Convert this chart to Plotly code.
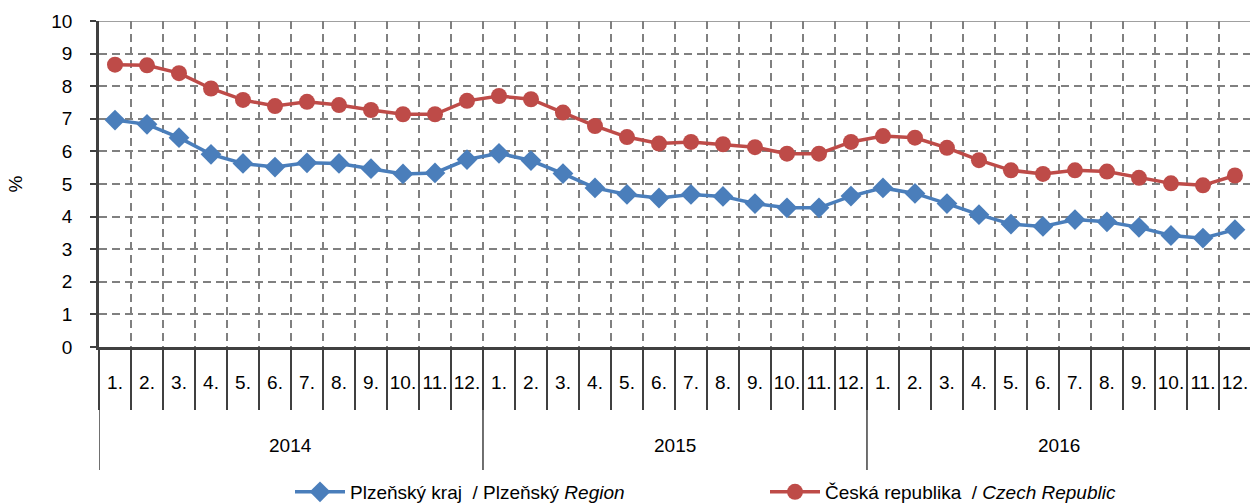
import plotly.graph_objects as go

years = ["2014", "2015", "2016"]
months = [f"{m}." for m in range(1, 13)]
categories = [f"{m} {y}" for y in years for m in months]
month_labels = months * 3

plzen = [6.96, 6.83, 6.42, 5.91, 5.63, 5.52, 5.65, 5.63, 5.47, 5.31, 5.34, 5.75,
         5.94, 5.72, 5.32, 4.88, 4.68, 4.57, 4.68, 4.62, 4.40, 4.27, 4.27, 4.63,
         4.88, 4.71, 4.40, 4.06, 3.77, 3.70, 3.91, 3.84, 3.67, 3.42, 3.34, 3.60]
czech = [8.66, 8.64, 8.40, 7.93, 7.58, 7.39, 7.52, 7.42, 7.27, 7.14, 7.14, 7.55,
         7.70, 7.60, 7.19, 6.78, 6.44, 6.24, 6.29, 6.22, 6.13, 5.93, 5.93, 6.29,
         6.47, 6.42, 6.11, 5.73, 5.42, 5.31, 5.42, 5.38, 5.19, 5.02, 4.96, 5.26]

name_plzen = "Plzeňský kraj  / Plzeňský <i>Region</i>"
name_czech = "Česká republika  / <i>Czech Republic</i>"

BLUE = "#4A7EBB"
RED = "#BE4B48"
FONT = "Liberation Sans, Arial, sans-serif"
AXIS = "#404040"
GRID = "#808080"
DASH = "8px,5px"

fig = go.Figure()
fig.add_trace(go.Scatter(
    x=categories, y=plzen, name=name_plzen, mode="lines+markers",
    line=dict(color=BLUE, width=3.5),
    marker=dict(symbol="diamond", size=16, color=BLUE),
    legend="legend",
))
fig.add_trace(go.Scatter(
    x=categories, y=czech, name=name_czech, mode="lines+markers",
    line=dict(color=RED, width=3.5),
    marker=dict(symbol="circle", size=16, color=RED),
    legend="legend2",
))

# solid top border at 10
fig.add_shape(type="line", xref="paper", yref="y", x0=0, x1=1, y0=10, y1=10,
              line=dict(color=GRID, width=1.5))

# year dividers and year labels
n_per_year = len(months)
for k, yr in enumerate(years):
    xb = k * n_per_year - 0.5
    fig.add_shape(type="line", xref="x", yref="paper", x0=xb, x1=xb,
                  y0=0, y1=-(470 - 347) / 326, line=dict(color=AXIS, width=1.5))
    fig.add_annotation(x=k * n_per_year + (n_per_year - 1) / 2, xref="x",
                       y=-(445 - 347) / 326, yref="paper",
                       text=yr, showarrow=False, font=dict(size=19),
                       xanchor="center", yanchor="middle")

leg_common = dict(orientation="h", xanchor="left", yanchor="middle",
                  font=dict(size=19), bgcolor="rgba(0,0,0,0)", itemwidth=50)

fig.update_layout(
    width=1250, height=504,
    margin=dict(l=99, r=0, t=21, b=157, autoexpand=False),
    paper_bgcolor="white", plot_bgcolor="white",
    font=dict(family=FONT, size=19, color="black"),
    showlegend=True,
    legend=dict(x=(290 - 99) / 1151, y=-(492 - 347) / 326, **leg_common),
    legend2=dict(x=(765 - 99) / 1151, y=-(492 - 347) / 326, **leg_common),
    xaxis=dict(
        type="category", categoryorder="array", categoryarray=categories,
        range=[-0.5, 35.47],
        tickmode="array", tickvals=categories, ticktext=month_labels,
        tickson="boundaries", tickangle=0,
        showgrid=True, gridcolor=GRID, gridwidth=1.5, griddash=DASH,
        showline=True, linecolor=AXIS, linewidth=2.5,
        ticks="outside", ticklen=60, tickcolor=AXIS, tickwidth=1.5,
        ticklabelstandoff=16,
        tickfont=dict(size=19),
        automargin=False,
    ),
    yaxis=dict(
        range=[0, 10], dtick=1, tick0=0,
        showgrid=True, gridcolor=GRID, gridwidth=1.5, griddash=DASH,
        showline=True, linecolor=AXIS, linewidth=2.5,
        ticks="outside", ticklen=6, tickcolor=AXIS, tickwidth=1.5,
        zeroline=False,
        ticklabelstandoff=14,
        title=dict(text="%", standoff=24, font=dict(size=19)),
        tickfont=dict(size=19),
        automargin=False,
    ),
)

fig.write_html("out.html", config={"displayModeBar": False},
               post_script="document.body.style.margin='0';")
